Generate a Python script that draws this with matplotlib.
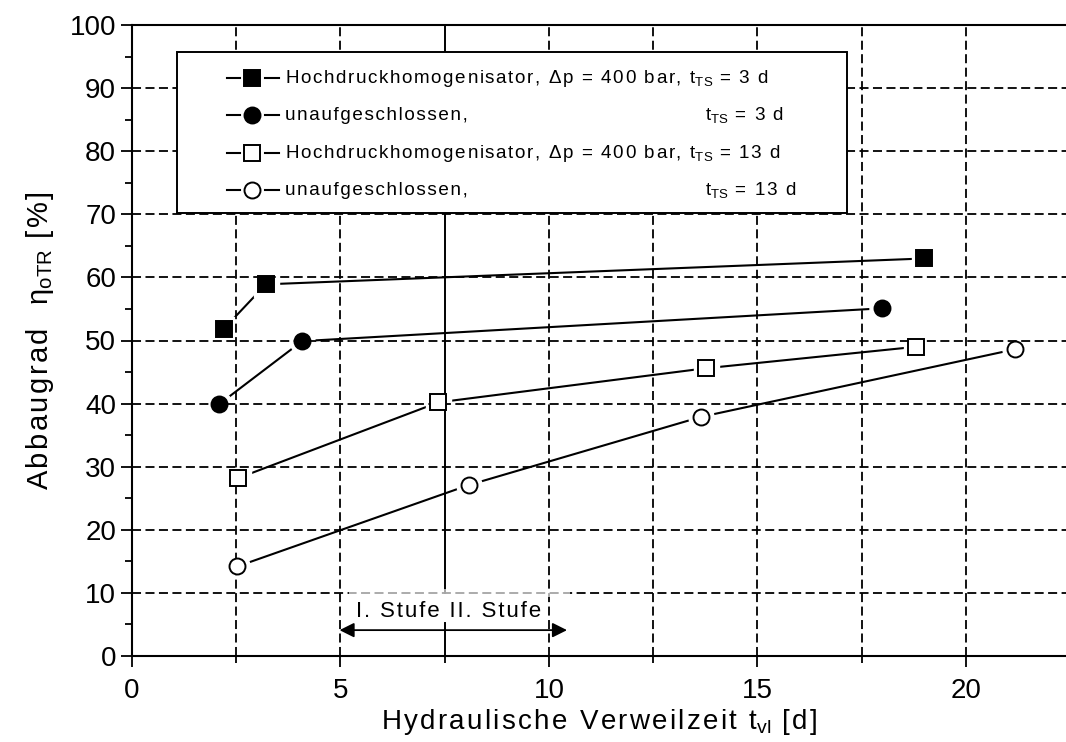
import matplotlib
matplotlib.use("Agg")
import matplotlib.pyplot as plt
from matplotlib.patches import Rectangle
from matplotlib.ticker import MultipleLocator

plt.rcParams['font.family'] = ['Liberation Sans', 'DejaVu Sans']
plt.rcParams['mathtext.fontset'] = 'custom'
plt.rcParams['mathtext.rm'] = 'Liberation Sans'
plt.rcParams['mathtext.it'] = 'Liberation Sans'
plt.rcParams['lines.scale_dashes'] = False

# Hochdruckhomogenisator, t_TS = 3 d
hd3_x = [2.21, 3.21, 19.0]
hd3_y = [51.9, 58.9, 63.0]
# unaufgeschlossen, t_TS = 3 d
un3_x = [2.09, 4.08, 17.99]
un3_y = [39.9, 49.9, 55.1]
# Hochdruckhomogenisator, t_TS = 13 d
hd13_x = [2.55, 7.35, 13.76, 18.8]
hd13_y = [28.2, 40.2, 45.6, 49.0]
# unaufgeschlossen, t_TS = 13 d
un13_x = [2.53, 8.08, 13.65, 21.17]
un13_y = [14.2, 27.1, 37.9, 48.6]

legend_main = ["Hochdruckhomogenisator, \u0394p = 400 bar, ", "unaufgeschlossen,",
               "Hochdruckhomogenisator, \u0394p = 400 bar, ", "unaufgeschlossen,"]
legend_tts = ["t$_\\mathregular{TS}$ = 3 d", "t$_\\mathregular{TS}$ = 3 d",
              "t$_\\mathregular{TS}$ = 13 d", "t$_\\mathregular{TS}$ = 13 d"]

stage_boundary = 7.5
stage_arrow = (4.91, 10.5)

series = [
    (hd3_x, hd3_y, 's', 'black'),
    (un3_x, un3_y, 'o', 'black'),
    (hd13_x, hd13_y, 's', 'white'),
    (un13_x, un13_y, 'o', 'white'),
]


def spaced(s, gap='\u200a'):
    # wide letter spacing like the original, math parts left alone
    parts = s.split('$')
    out = []
    for i, p in enumerate(parts):
        if i % 2 == 0:
            out.append(gap.join(p))
        else:
            out.append('$' + p + '$')
    return ''.join(out)


fig = plt.figure(figsize=(10.66, 7.42), dpi=100)
ax = fig.add_axes([132 / 1066, 86 / 742, 934 / 1066, 631 / 742])
ax.set_xlim(0, 22.4)
ax.set_ylim(0, 100)

dash = (0, (6.5, 3.2))
# horizontal grid
for yv in range(10, 100, 10):
    ax.axhline(yv, color='black', lw=1.3, ls=dash, zorder=2.7)
# vertical grid
for xv in [2.5, 5, 10, 12.5, 15, 17.5, 20]:
    ax.axvline(xv, color='black', lw=1.3, ls=dash, zorder=2.7)

# stage boundary (solid)
ax.plot([stage_boundary, stage_boundary], [10, 100], color='black', lw=1.4, zorder=2.7)
ax.plot([stage_boundary, stage_boundary], [0, 5.3], color='black', lw=1.4, zorder=2.7)

# white box behind the stage label
ax.add_patch(Rectangle((5.2, 9.4), 5.3, 1.2, facecolor='white', alpha=0.65,
                       edgecolor='none', zorder=2.8))

for xs, ys, mk, fc in series:
    ax.plot(xs, ys, color='black', lw=1.5, zorder=2)
    ax.plot(xs, ys, ls='none', marker=mk, ms=18, mfc='white', mec='white', zorder=2.5)
    ax.plot(xs, ys, ls='none', marker=mk, ms=11.5,
            mfc=fc, mec='black', mew=1.4, zorder=3)

# stage annotation
ax.annotate('', xy=(stage_arrow[0], 4.1), xytext=(stage_arrow[1], 4.1),
            arrowprops=dict(arrowstyle='<|-|>', color='black', lw=1.3,
                            mutation_scale=22), zorder=4)
ax.text(7.6, 7.0, spaced('I. Stufe II. Stufe'), fontsize=16, ha='center',
        va='center', zorder=4)

# legend drawn by hand
ax.add_patch(Rectangle((0.048, 0.702), 0.717, 0.255, transform=ax.transAxes,
                       facecolor='white', edgecolor='black', lw=1.4, zorder=5))
row_y = [0.916, 0.857, 0.797, 0.738]
for i, (xs, ys, mk, fc) in enumerate(series):
    yy = row_y[i]
    ax.plot([0.1015, 0.1160], [yy, yy], transform=ax.transAxes, color='black', lw=1.5, zorder=6)
    ax.plot([0.1420, 0.157], [yy, yy], transform=ax.transAxes, color='black', lw=1.5, zorder=6)
    ax.plot([0.129], [yy], transform=ax.transAxes, marker=mk, ms=11.5, mfc=fc,
            mec='black', mew=1.4, ls='none', zorder=6)
    if legend_main[i].startswith('Hoch'):
        ax.text(0.164, yy, spaced(legend_main[i] + legend_tts[i]), transform=ax.transAxes,
                fontsize=13.6, va='center', ha='left', zorder=6)
    else:
        ax.text(0.164, yy, spaced(legend_main[i]), transform=ax.transAxes,
                fontsize=13.6, va='center', ha='left', zorder=6)
        ax.text(0.613, yy, spaced(legend_tts[i]), transform=ax.transAxes,
                fontsize=13.6, va='center', ha='left', zorder=6)

# axes styling
ax.spines['right'].set_visible(False)
for s in ['left', 'bottom', 'top']:
    ax.spines[s].set_linewidth(1.5)
ax.xaxis.set_major_locator(MultipleLocator(5))
ax.xaxis.set_minor_locator(MultipleLocator(2.5))
ax.yaxis.set_major_locator(MultipleLocator(10))
ax.yaxis.set_minor_locator(MultipleLocator(5))
ax.tick_params(which='major', direction='out', length=8, width=1.3, labelsize=20)
ax.tick_params(which='minor', direction='out', length=5, width=1.3)
ax.tick_params(axis='x', pad=8)

ax.set_xlabel(spaced('Hydraulische Verweilzeit t$_\\mathregular{vl}$ [d]'), fontsize=20, labelpad=2)
ax.set_ylabel(spaced('Abbaugrad  \u03b7$_\\mathregular{oTR}$ [%]'), fontsize=21, labelpad=10)

fig.savefig('out.png', dpi=100)
